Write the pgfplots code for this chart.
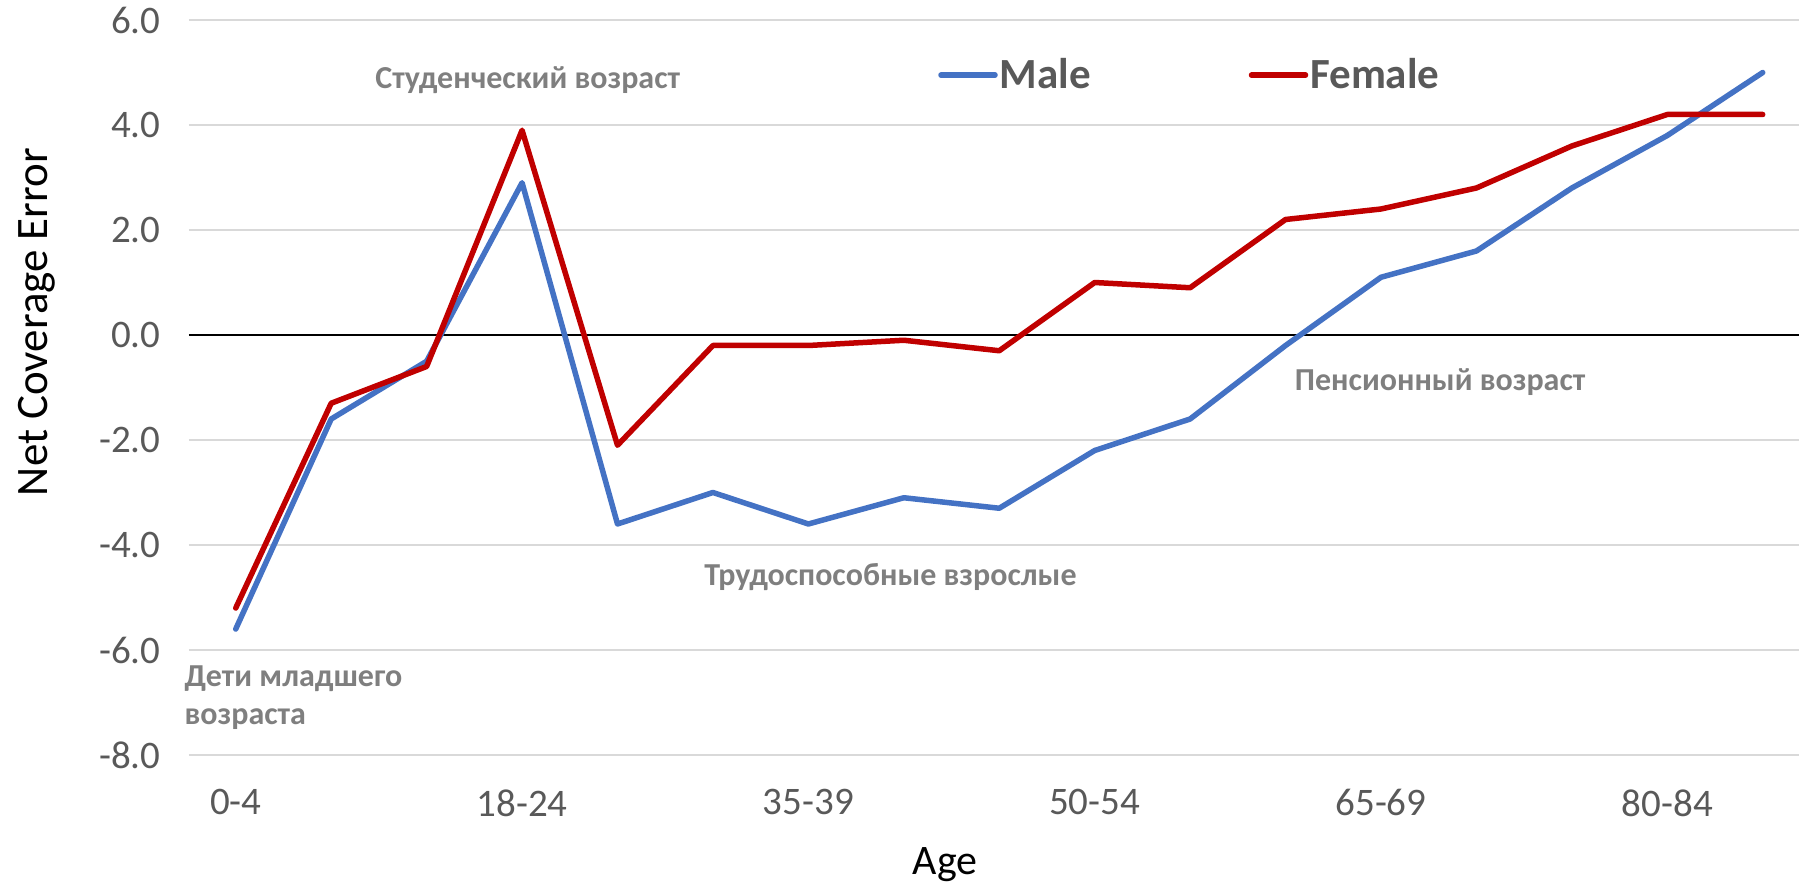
\documentclass[border=0pt]{standalone}
\usepackage{pgfplots}
\pgfplotsset{compat=1.18}
\usepackage{fontspec}
\setmainfont{Carlito}
\definecolor{mblue}{HTML}{4472C4}
\definecolor{fred}{HTML}{C00000}
\definecolor{tickgray}{HTML}{595959}
\definecolor{anngray}{HTML}{7F7F7F}
\definecolor{gridgray}{HTML}{D9D9D9}
\begin{document}
\begin{tikzpicture}
\begin{axis}[
  scale only axis, width=805pt, height=367.5pt,
  xmin=-0.49, xmax=16.38, ymin=-8, ymax=6,
  clip=false,
  axis line style={draw=none},
  ytick={-8,-6,-4,-2,0,2,4,6},
  yticklabels={-8.0,-6.0,-4.0,-2.0,0.0,2.0,4.0,6.0},
  xtick={0,3,6,9,12,15},
  xticklabels={0-4,18-24,35-39,50-54,65-69,80-84},
  ymajorgrids, major grid style={gridgray, line width=0.9pt},
  major tick length=0pt,
  tick label style={font=\fontsize{19.5}{22}\selectfont, text=tickgray},
  yticklabel style={anchor=east, inner sep=0pt, xshift=-14pt},
  xticklabel style={anchor=north, inner sep=0pt, yshift=-17pt},
  extra y ticks={0}, extra y tick labels={},
  extra y tick style={grid=major, major grid style={black, line width=0.8pt}},
  xlabel={Age}, ylabel={Net Coverage Error},
  xlabel style={at={(axis description cs:0.4696,-0.1497)}, anchor=center, font=\fontsize{21}{25}\selectfont, text=black},
  ylabel style={at={(axis description cs:-0.0944,0.589)}, anchor=center, font=\fontsize{22.5}{26}\selectfont, text=black},
  legend style={at={(axis description cs:0.4614,0.925)}, anchor=west, draw=none, fill=none,
    font=\bfseries\fontsize{21.5}{25}\selectfont, text=tickgray, legend columns=2,
    /tikz/every even column/.append style={column sep=78pt}, nodes={inner sep=1pt}},
  legend image code/.code={\draw[#1, line cap=round] (0pt,0pt) -- (27pt,0pt);},
]
\addplot[mblue, line width=2.75pt, line cap=round, line join=round] coordinates {
(0,-5.6) (1,-1.6) (2,-0.5) (3,2.9) (4,-3.6) (5,-3.0) (6,-3.6) (7,-3.1) (8,-3.3)
(9,-2.2) (10,-1.6) (11,-0.2) (12,1.1) (13,1.6) (14,2.8) (15,3.8) (16,5.0)};
\addlegendentry{Male}
\addplot[fred, line width=2.75pt, line cap=round, line join=round] coordinates {
(0,-5.2) (1,-1.3) (2,-0.6) (3,3.9) (4,-2.1) (5,-0.2) (6,-0.2) (7,-0.1) (8,-0.3)
(9,1.0) (10,0.9) (11,2.2) (12,2.4) (13,2.8) (14,3.6) (15,4.2) (16,4.2)};
\addlegendentry{Female}
\node[font=\bfseries\fontsize{16}{19}\selectfont, text=anngray] at (axis cs:3.06,4.86) {Студенческий возраст};
\node[font=\bfseries\fontsize{16}{19}\selectfont, text=anngray, align=left, anchor=west] at (axis cs:-0.61,-6.91) {Дети младшего\\возраста};
\node[font=\bfseries\fontsize{16}{19}\selectfont, text=anngray] at (axis cs:6.86,-4.61) {Трудоспособные взрослые};
\node[font=\bfseries\fontsize{16}{19}\selectfont, text=anngray] at (axis cs:12.62,-0.9) {Пенсионный возраст};
\end{axis}
\pgfresetboundingbox
\path[use as bounding box] (-94.5pt,-66pt) rectangle (805pt,377.5pt);
\end{tikzpicture}
\end{document}
